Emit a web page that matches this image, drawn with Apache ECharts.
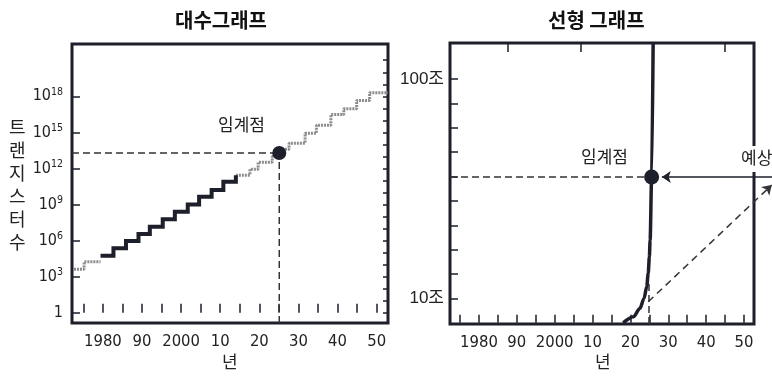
<!DOCTYPE html>
<html><head><meta charset="utf-8">
<script src="https://cdn.jsdelivr.net/npm/echarts@6/dist/echarts.min.js"></script>
<style>html,body{margin:0;padding:0;background:#fff}#c{width:772px;height:376px}</style>
</head><body><div id="c"></div>
<script>
// ---- shared x-axis ticks / labels ----
const tickYears = [1975,1980,1985,1990,1995,2000,2005,2010,2015,2020,2025,2030,2035,2040,2045,2050];
const labelYears = [1980,1990,2000,2010,2020,2030,2040,2050];
const labelYearTexts = ['1980','90','2000','10','20','30','40','50'];

// ---- log chart (values are log10 of transistor count) ----
const logTickExps = [0,1,2,3,4,5,6,7,8,9,10,11,12,13,14,15,16,17,18,19,20,21];
const logLabelExps = [0,3,6,9,12,15,18];
const logLabelSups = ['','3','6','9','12','15','18'];
const darkYears = [1979.4,1982.7,1985.9,1989.1,1992.0,1995.3,1998.4,2001.7,2004.6,2007.8,2010.8,2014.0];
const darkExps  = [4.75,5.36,5.97,6.55,7.16,7.77,8.40,9.01,9.64,10.20,10.89,11.44];
const grayEarlyYears = [1972.6,1975.2,1979.4];
const grayEarlyExps  = [3.62,4.25,4.25];
const grayLateYears = [2014.0,2017.6,2019.7,2023.3,2025.1,2027.6,2031.7,2034.6,2038.3,2041.6,2044.9,2048.2,2052.9];
const grayLateExps  = [11.44,11.94,12.52,13.0,13.6,14.1,14.93,15.59,16.48,16.97,17.66,18.3,18.3];
const logCritical = [2025.1, 13.29];

// ---- linear chart (units: 조) ----
const linTickVals = [10,20,30,40,50,60,70,80,90,100];
const linLabelVals = [10,100];
const linLabelTexts = ['10조','100조'];
const linTopTickYears = [1987.7,2006.8,2045.0];
const linCurveYears = [2018.1,2020.8,2022.5,2023.6,2024.3,2024.7,2025.0,2025.2,2025.6,2026.0];
const linCurveVals  = [0,2.5,5.9,10.0,14.8,20.3,27.1,33.9,59.8,115];
const linCritical = [2025.6, 59.8];
const linGuideYear = 2024.9, linGuideTop = 16.8;
const forecastFrom = [2024.7, 8.6], forecastTo = [2057.3, 56.5];
const arrowFrom = [2064, 59.8], arrowTo = [2028.3, 59.8];

const INK = '#1d1f2b';
const NARROW = '"DejaVu Sans Condensed","Liberation Sans",sans-serif';
const KR = '"Noto Sans CJK KR","Noto Sans",sans-serif';
const zip = (a,b) => a.map((v,i)=>[v,b[i]]);

const chart = echarts.init(document.getElementById('c'), null, {renderer:'canvas'});

function xAxisBottom(grid, min, max, tickLen){
  return {gridIndex:grid, type:'value', min:min, max:max, position:'bottom',
    axisLine:{show:false}, splitLine:{show:false},
    axisTick:{show:true, inside:true, length:tickLen, customValues:tickYears, lineStyle:{color:INK,width:1.5}},
    axisLabel:{show:true, customValues:labelYears, margin:10, color:'#222', fontSize:16.5, fontFamily:NARROW,
      formatter:v=>{const i=labelYears.indexOf(v);return i>=0?labelYearTexts[i]:'';}}};
}

const option = {
  animation:false,
  backgroundColor:'#fff',
  grid:[
    {left:72, top:44, width:316, height:279, show:true, borderColor:INK, borderWidth:3, backgroundColor:'transparent'},
    {left:450, top:43, width:304, height:281, show:true, borderColor:INK, borderWidth:3, backgroundColor:'transparent'}
  ],
  xAxis:[
    xAxisBottom(0, 1972.1, 2052.9, 9),
    xAxisBottom(1, 1972.36, 2052.63, 8),
    {gridIndex:1, type:'value', min:1972.36, max:2052.63, position:'top',
      axisLine:{show:false}, splitLine:{show:false}, axisLabel:{show:false},
      axisTick:{show:true, inside:true, length:9, customValues:linTopTickYears, lineStyle:{color:INK,width:1.5}}}
  ],
  yAxis:[
    {gridIndex:0, type:'value', min:-0.85, max:22.35, axisLine:{show:false}, splitLine:{show:false},
      axisTick:{show:true, inside:true, length:8, customValues:logLabelExps, lineStyle:{color:INK,width:1.5}},
      axisLabel:{show:true, customValues:logLabelExps, margin:9, color:'#222',
        formatter:v=>{const i=logLabelExps.indexOf(v); if(i<0) return ''; return logLabelSups[i]===''?'{b|1}':'{b|10}{s|'+logLabelSups[i]+'}';},
        rich:{b:{fontSize:16, fontFamily:NARROW, color:'#222', lineHeight:20},
              s:{fontSize:10.5, fontFamily:NARROW, color:'#222', lineHeight:11, verticalAlign:'top'}}}},
    {gridIndex:0, type:'value', min:-0.85, max:22.35, axisLine:{show:false}, splitLine:{show:false},
      axisLabel:{show:false},
      axisTick:{show:true, inside:true, length:5, customValues:logTickExps, lineStyle:{color:INK,width:1.5}}},
    {gridIndex:1, type:'value', min:-0.5, max:114.8, axisLine:{show:false}, splitLine:{show:false},
      axisTick:{show:true, inside:true, length:8, customValues:linTickVals, lineStyle:{color:INK,width:1.5}},
      axisLabel:{show:true, customValues:linLabelVals, margin:6, color:'#222', fontSize:17, fontFamily:'"Liberation Sans","Noto Sans CJK KR",sans-serif',
        formatter:v=>{const i=linLabelVals.indexOf(v);return i>=0?linLabelTexts[i]:'';}}}
  ],
  series:[
    {type:'line', xAxisIndex:0, yAxisIndex:0, step:'end', symbol:'none', data:zip(grayEarlyYears,grayEarlyExps),
      lineStyle:{color:'#8c8c8c', width:3, type:[2,1]}, z:3},
    {type:'line', xAxisIndex:0, yAxisIndex:0, step:'end', symbol:'none', data:zip(grayLateYears,grayLateExps),
      lineStyle:{color:'#8c8c8c', width:3, type:[2,1]}, z:3},
    {type:'line', xAxisIndex:0, yAxisIndex:0, step:'end', symbol:'none', data:zip(darkYears,darkExps),
      lineStyle:{color:INK, width:4, join:'miter', cap:'butt', miterLimit:10}, z:4},
    {type:'line', xAxisIndex:0, yAxisIndex:0, symbol:'none', data:[[1972.1,logCritical[1]],logCritical],
      lineStyle:{color:'#333', width:1.5, type:[7,4]}, z:2},
    {type:'line', xAxisIndex:0, yAxisIndex:0, symbol:'none', data:[[logCritical[0],-0.85],logCritical],
      lineStyle:{color:'#333', width:1.5, type:[7,4]}, z:2},
    {type:'scatter', xAxisIndex:0, yAxisIndex:0, symbol:'circle', symbolSize:14, data:[logCritical],
      itemStyle:{color:INK, opacity:1}, z:6},

    {type:'line', xAxisIndex:1, yAxisIndex:2, symbol:'none', smooth:0.3, smoothMonotone:'x',
      data:zip(linCurveYears,linCurveVals), lineStyle:{color:INK, width:3.5}, z:4},
    {type:'line', xAxisIndex:1, yAxisIndex:2, symbol:'none', data:[[1972.36,linCritical[1]],linCritical],
      lineStyle:{color:'#333', width:1.5, type:[7,4]}, z:2},
    {type:'line', xAxisIndex:1, yAxisIndex:2, symbol:'none', data:[[linGuideYear,-0.5],[linGuideYear,linGuideTop]],
      lineStyle:{color:'#333', width:1.5, type:[7,4]}, z:2},
    {type:'lines', coordinateSystem:'cartesian2d', xAxisIndex:1, yAxisIndex:2, clip:false,
      symbol:['none','arrow'], symbolSize:9,
      data:[{coords:[forecastFrom,forecastTo]}], lineStyle:{color:'#333', width:1.5, type:[7,5], opacity:1}, z:3},
    {type:'lines', coordinateSystem:'cartesian2d', xAxisIndex:1, yAxisIndex:2, clip:false,
      symbol:['none','arrow'], symbolSize:9,
      data:[{coords:[arrowFrom,arrowTo]}], lineStyle:{color:INK, width:1.5, opacity:1}, z:3},
    {type:'scatter', xAxisIndex:1, yAxisIndex:2, symbol:'circle', symbolSize:15, data:[linCritical],
      itemStyle:{color:INK, opacity:1}, z:6}
  ],
  graphic:[
    {type:'text', left:175, top:10, z:100, style:{text:'대수그래프', font:'bold 20px '+KR, fill:'#111'}},
    {type:'text', left:548, top:10, z:100, style:{text:'선형 그래프', font:'bold 20px '+KR, fill:'#111'}},
    {type:'text', left:9, top:116, z:100, style:{text:'트\n랜\n지\n스\n터\n수', font:'18px '+KR, fill:'#222', lineHeight:23, align:'left'}},
    {type:'text', left:222, top:353, z:100, style:{text:'년', font:'17px '+KR, fill:'#222'}},
    {type:'text', left:595, top:353, z:100, style:{text:'년', font:'17px '+KR, fill:'#222'}},
    {type:'text', left:218, top:116, z:100, style:{text:'임계점', font:'17px '+KR, fill:'#222'}},
    {type:'text', left:581, top:148, z:100, style:{text:'임계점', font:'17px '+KR, fill:'#222'}},
    {type:'text', left:739, top:146, z:100, style:{text:'예상', font:'17px '+KR, fill:'#222', backgroundColor:'#fff', padding:[3,2,6,2]}}
  ]
};
chart.setOption(option);
</script>
</body></html>
